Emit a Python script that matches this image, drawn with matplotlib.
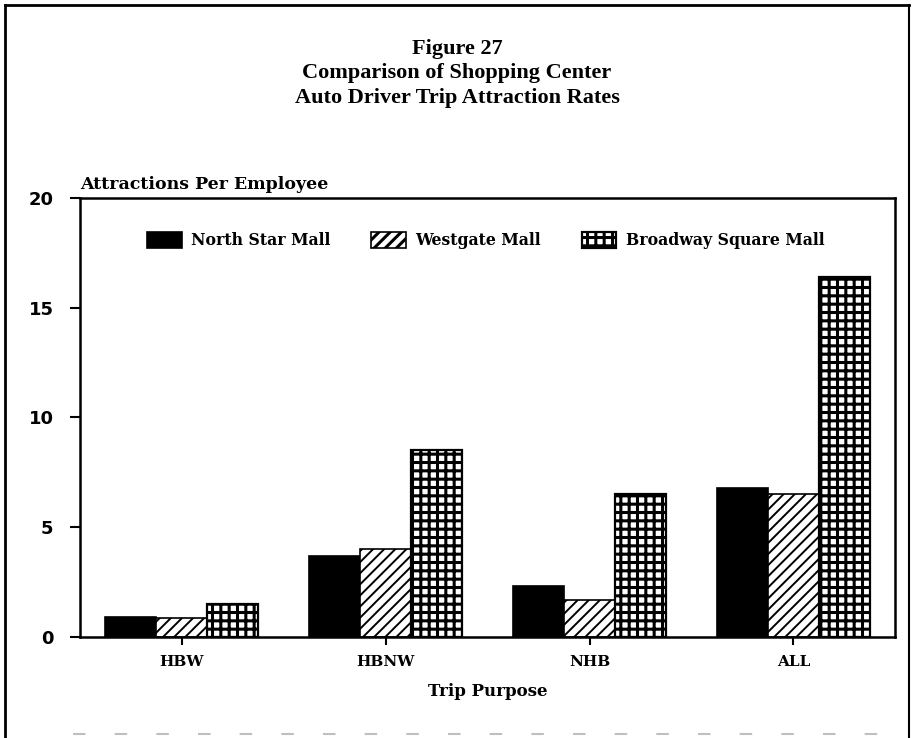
# Figure 27 - shopping center auto driver trip attraction rates
import numpy as np
import matplotlib.pyplot as plt
from matplotlib.lines import Line2D

categories = ["HBW", "HBNW", "NHB", "ALL"]
north_star = [0.9, 3.7, 2.3, 6.8]
westgate = [0.85, 4.0, 1.7, 6.5]
broadway = [1.5, 8.5, 6.5, 16.4]
series_names = ["North Star Mall", "Westgate Mall", "Broadway Square Mall"]

plt.rcParams["hatch.color"] = "black"

fig = plt.figure(figsize=(9.14, 7.38), dpi=100)
ax = fig.add_axes([0.0875, 0.137, 0.892, 0.595])

x = np.arange(1, len(categories) + 1)
w = 0.25
ax.bar(x - w, north_star, w, color="black", edgecolor="black", linewidth=1.2, label=series_names[0])
plt.rcParams["hatch.linewidth"] = 1.4
ax.bar(x, westgate, w, color="white", edgecolor="black", linewidth=1.2, hatch="///", label=series_names[1])
plt.rcParams["hatch.linewidth"] = 2.2
ax.bar(x + w, broadway, w, color="white", edgecolor="black", linewidth=1.6, hatch="++", label=series_names[2])

ax.set_xlim(0.5, 4.5)
ax.set_ylim(0, 20)
ax.set_yticks([0, 5, 10, 15, 20])
ax.set_xticks(x)
ax.set_xticklabels(categories, fontfamily="DejaVu Serif", fontweight="bold", fontsize=11)
for lab in ax.get_yticklabels():
    lab.set_fontfamily("DejaVu Sans")
    lab.set_fontweight("bold")
    lab.set_fontsize(13)
ax.tick_params(axis="y", direction="out", length=7, width=1.5, pad=12)
ax.tick_params(axis="x", direction="out", length=6, width=1.5, pad=7)
for s in ax.spines.values():
    s.set_linewidth(1.8)

ax.set_xlabel("Trip Purpose", fontfamily="DejaVu Serif", fontweight="bold", fontsize=12, labelpad=10)
ax.text(0.0, 1.012, "Attractions Per Employee", transform=ax.transAxes, ha="left", va="bottom",
        fontfamily="DejaVu Serif", fontweight="bold", fontsize=12.5)

ax.legend(loc="upper left", bbox_to_anchor=(0.065, 0.955), ncol=3, frameon=False,
          handlelength=2.2, handleheight=1.2, columnspacing=2.6, handletextpad=0.6,
          prop={"family": "DejaVu Serif", "weight": "bold", "size": 11.3})

fig.text(0.5, 0.901, "Figure 27\nComparison of Shopping Center\nAuto Driver Trip Attraction Rates",
         ha="center", va="center", fontfamily="Liberation Serif", fontweight="bold",
         fontsize=16, linespacing=1.3)

# page frame
fig.add_artist(Line2D([0.006, 0.006], [0.0, 0.993], transform=fig.transFigure, color="black", lw=2))
fig.add_artist(Line2D([0.006, 0.994], [0.993, 0.993], transform=fig.transFigure, color="black", lw=2))
fig.add_artist(Line2D([0.994, 0.994], [0.0, 0.993], transform=fig.transFigure, color="black", lw=1.5))
fig.add_artist(Line2D([0.08, 0.99], [0.006, 0.006], transform=fig.transFigure, color="0.75", lw=1.5,
                      linestyle=(0, (6, 14))))

fig.savefig("out.png", dpi=100)
